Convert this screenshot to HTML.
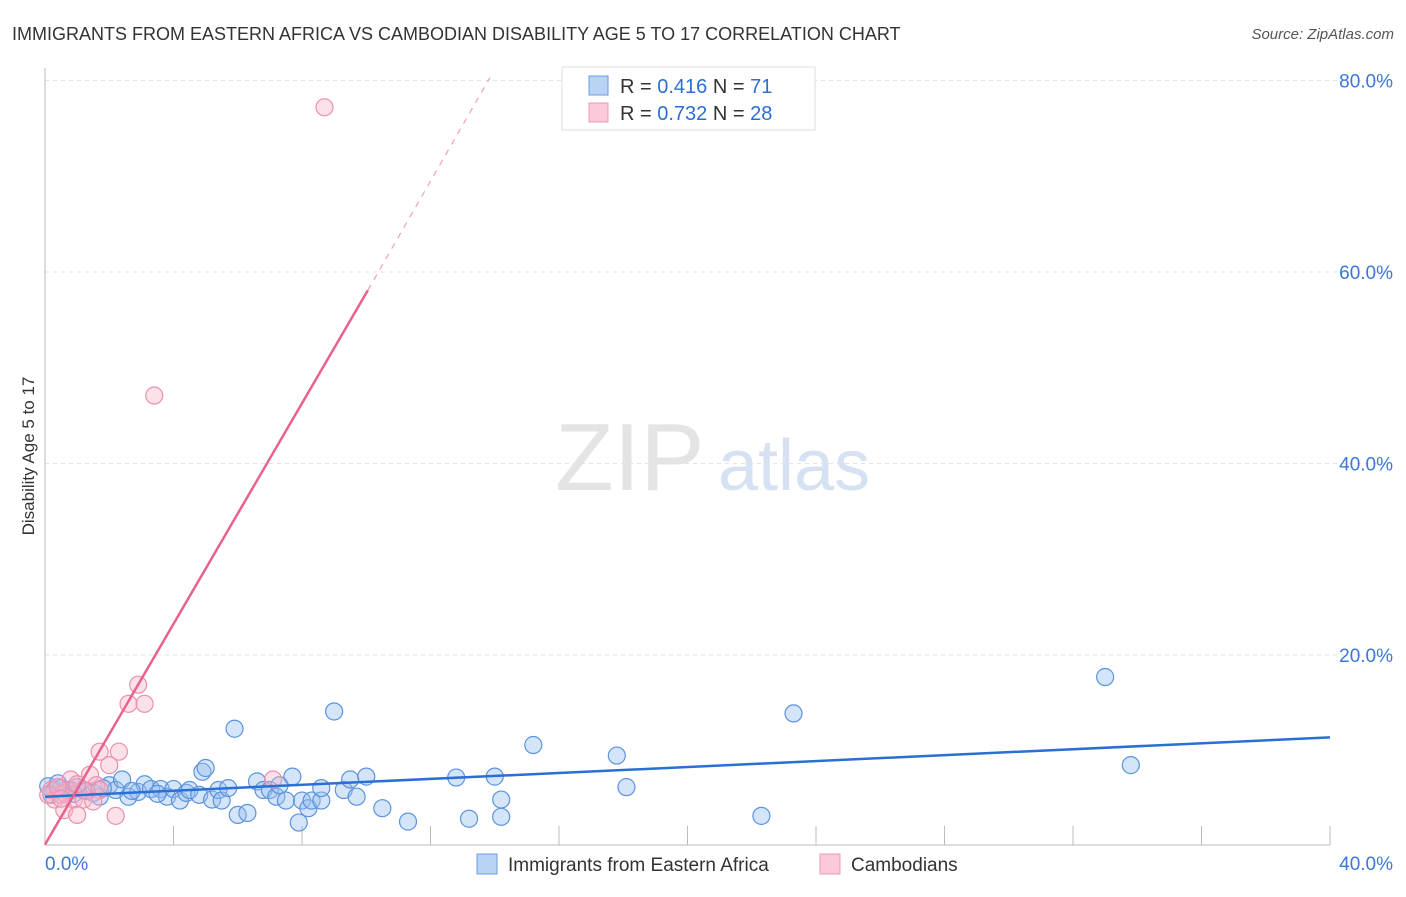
<!DOCTYPE html>
<html><head><meta charset="utf-8"><style>
body{margin:0;background:#fff;font-family:"Liberation Sans",sans-serif;}
svg text{font-family:"Liberation Sans",sans-serif;}
</style></head><body>
<svg width="1406" height="892" id="c">
<text x="12" y="40" font-size="18" fill="#333">IMMIGRANTS FROM EASTERN AFRICA VS CAMBODIAN DISABILITY AGE 5 TO 17 CORRELATION CHART</text>
<text x="1394" y="39" font-size="15" fill="#555" font-style="italic" text-anchor="end">Source: ZipAtlas.com</text>
<text x="34" y="456" font-size="17" fill="#333" text-anchor="middle" transform="rotate(-90 34 456)">Disability Age 5 to 17</text>
<text x="555" y="490" font-size="96" fill="#e4e4e4" font-family="Liberation Serif">ZIP</text>
<text x="718" y="490" font-size="72" fill="#d6e2f3">atlas</text>
<g id="grid"></g><g id="pts"></g><g id="lines"></g>
<g>
<rect x="562" y="67" width="253" height="63" fill="#fff" stroke="#ddd"/>
<rect x="589" y="76" width="19" height="19" fill="#b9d3f5" stroke="#6a9be0"/>
<rect x="589" y="103" width="19" height="19" fill="#fbc9d8" stroke="#ef97b2"/>
<text x="620" y="93" font-size="20" fill="#333">R = <tspan fill="#2a6fd4">0.416</tspan>   N = <tspan fill="#2a6fd4"> 71</tspan></text>
<text x="620" y="120" font-size="20" fill="#333">R = <tspan fill="#2a6fd4">0.732</tspan>   N = <tspan fill="#2a6fd4">28</tspan></text>
</g>
<g>
<rect x="477" y="854" width="20" height="20" fill="#b9d3f5" stroke="#6a9be0"/>
<text x="508" y="871" font-size="19" fill="#333">Immigrants from Eastern Africa</text>
<rect x="820" y="854" width="20" height="20" fill="#fbc9d8" stroke="#ef97b2"/>
<text x="851" y="871" font-size="19" fill="#333">Cambodians</text>
</g>
</svg>
<script>
const yTicks=[20,40,60,80];
const yTickLabels=["20.0%","40.0%","60.0%","80.0%"];
const xTicks=[0,4,8,12,16,20,24,28,32,36,40];
const blueX=[0.1,0.3,0.5,0.8,1.0,1.2,1.5,1.7,2.0,2.2,2.4,2.6,2.9,3.1,3.3,3.6,3.8,4.0,4.2,4.4,4.5,4.8,4.9,5.0,5.2,5.4,5.5,5.7,5.9,6.0,6.3,6.6,6.8,7.0,7.2,7.3,7.5,7.7,7.9,8.0,8.2,8.3,8.6,8.6,9.0,9.3,9.5,9.7,10.0,10.5,11.3,12.8,13.2,14.0,14.2,14.2,15.2,17.8,18.1,22.3,23.3,33.0,33.8,0.2,0.6,1.3,0.4,0.9,1.8,2.7,3.5];
const blueY=[6.3,5.9,6.1,5.9,6.2,5.9,5.6,5.2,6.4,5.9,7.0,5.2,5.7,6.5,6.0,6.0,5.2,6.0,4.8,5.6,5.9,5.4,7.8,8.2,4.9,5.9,4.8,6.1,12.3,3.3,3.5,6.8,5.9,5.9,5.2,6.4,4.8,7.3,2.5,4.8,4.0,4.8,4.8,6.1,14.1,5.9,7.0,5.2,7.3,4.0,2.6,7.2,2.9,7.3,4.9,3.1,10.6,9.5,6.2,3.2,13.9,17.7,8.5,5.4,5.6,5.8,6.6,5.5,6.1,5.8,5.5];
const pinkX=[8.7,3.4,2.9,2.6,3.1,1.7,2.3,2.0,1.4,0.8,1.6,0.2,0.3,0.5,0.6,0.9,1.0,1.2,2.2,7.1,0.1,0.7,1.2,1.7,0.4,1.0,0.5,1.5];
const pinkY=[77.2,47.1,16.9,14.9,14.9,9.9,9.9,8.5,7.5,7.0,6.4,5.9,4.9,5.4,3.8,4.9,3.3,4.9,3.2,7.0,5.4,5.9,5.9,5.9,6.2,6.5,5.0,4.7];
const blueTrend=[[0,5.2],[40,11.4]];
const pinkTrend=[[0,0.2],[10.05,58.1]];
const pinkDash=[[10.05,58.1],[13.85,80.3]];
const sx=v=>45+v*32.125, sy=v=>846.5-v*9.575;
const NS="http://www.w3.org/2000/svg";
function mk(t,a,p){const e=document.createElementNS(NS,t);for(const k in a)e.setAttribute(k,a[k]);p.appendChild(e);return e;}
const g=document.getElementById('grid');
yTicks.forEach((t,i)=>{
 const l=mk('line',{x1:45,x2:1392,y1:sy(t),y2:sy(t),stroke:'#e3e3e3','stroke-dasharray':'4,4'},g);
 
 
 const tx=mk('text',{x:1393,y:sy(t)+7,'font-size':19,fill:'#3a78d6','text-anchor':'end'},g);
 tx.textContent=yTickLabels[i];
 
 
});
const ax=mk('path',{d:'M45 68 V845 H1330',fill:'none',stroke:'#bbb'},g);


xTicks.forEach(t=>{
 const l=mk('line',{x1:sx(t),x2:sx(t),y1:826,y2:845,stroke:'#bbb'},g);
 
 
});
[[0,"0.0%",'start',45],[40,"40.0%",'end',1393]].forEach(d=>{
 const tx=mk('text',{x:d[3],y:870,'font-size':19,fill:'#3a78d6','text-anchor':d[2]},g);
 tx.textContent=d[1];
 
 
});
const p=document.getElementById('pts');
blueX.forEach((x,i)=>{
 const c=mk('circle',{cx:sx(x),cy:sy(blueY[i]),r:8.5,fill:'rgba(150,190,240,0.4)',stroke:'#5b93dd','stroke-width':1.2},p);
 
 
});
pinkX.forEach((x,i)=>{
 const c=mk('circle',{cx:sx(x),cy:sy(pinkY[i]),r:8.5,fill:'rgba(250,180,200,0.4)',stroke:'#ec8fac','stroke-width':1.2},p);
 
 
});
const L=document.getElementById('lines');
function ln(a,st,w,da,name){const e=mk('line',{x1:sx(a[0][0]),y1:sy(a[0][1]),x2:sx(a[1][0]),y2:sy(a[1][1]),stroke:st,'stroke-width':w},L);if(da)e.setAttribute('stroke-dasharray',da);}
ln(blueTrend,'#2a6fd4',2.5,null,'trend-eastern-africa');
ln(pinkTrend,'#e8628c',2.5,null,'trend-cambodians');
ln(pinkDash,'#eea0b8',1.2,'6,6','trend-cambodians-extension');
</script>
</body></html>
